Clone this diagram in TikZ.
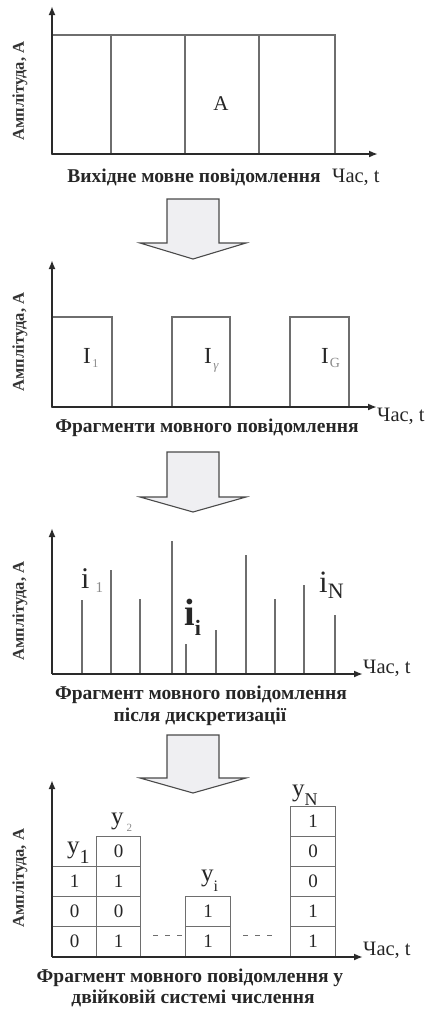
\documentclass[tikz,border=0pt]{standalone}
\usepackage{fontspec}
\setmainfont{Liberation Serif}
\usetikzlibrary{arrows.meta}
\newcommand\fsz[1]{\fontsize{#1}{#1}\selectfont}
\definecolor{axcol}{HTML}{2A2A2A}
\definecolor{lncol}{HTML}{6E6E6E}
\definecolor{subgray}{HTML}{8A8A8A}
\definecolor{arrfill}{HTML}{EFEFF2}
\definecolor{arrline}{HTML}{4A4A4A}
\begin{document}
\begin{tikzpicture}[x=1pt,y=-1pt,
  axisline/.style={draw=axcol,line width=1.8pt,-{Latex[length=9pt,width=7pt]}},
  sig/.style={draw=lncol,line width=1.1pt},
  stemline/.style={draw=lncol,line width=1.1pt},
  cell/.style={draw=lncol,line width=1.1pt,minimum width=44pt,minimum height=30pt,inner sep=0pt,anchor=south west,font=\fsz{19},text=black!85},
  captxt/.style={inner sep=0pt,anchor=base,font=\fsz{19.5}\bfseries,text=black!85},
  tlab/.style={inner sep=0pt,anchor=base west,font=\fsz{20.5},text=black!85},
  ylab/.style={inner sep=0pt,rotate=90,font=\fsz{16.5}\bfseries,text=black!80},
  lab/.style={inner sep=0pt,anchor=base west,text=black!85},
  blockarrow/.style={draw=arrline,fill=arrfill,line width=1.1pt,line join=miter},
  dotline/.style={draw=lncol,line width=0.9pt,dash pattern=on 5pt off 7pt}
]
\useasboundingbox (0,0) rectangle (430,1010);

% ---------- Panel 1 ----------
\coordinate (o1) at (52,154);
\coordinate (ya1) at (52,6);
\coordinate (xa1) at (378,154);
\draw[sig] (52,35) rectangle (335,154);
\foreach \x in {111,185,259} \draw[sig] (\x,35) -- (\x,154);
\draw[axisline] (o1) -- (ya1);
\draw[axisline] (o1) -- (xa1);
\node[inner sep=0pt,font=\fsz{21},text=black!85] (A) at (221,103.5) {A};
\node[captxt] (c1) at (194,182) {Вихідне мовне повідомлення};
\node[tlab] (t1) at (332,182) {Час, t};
\node[ylab] (y1) at (20,91) {Амплітуда, А};

% arrow 1
\draw[blockarrow] (167,199) -- (219,199) -- (219,243) -- (246,243) -- (193,259) -- (140,243) -- (167,243) -- cycle;

% ---------- Panel 2 ----------
\coordinate (o2) at (52,407);
\coordinate (ya2) at (52,260);
\coordinate (xa2) at (377,407);
\draw[sig] (52,317) rectangle (112,407);
\draw[sig] (172,317) rectangle (230,407);
\draw[sig] (290,317) rectangle (349,407);
\draw[axisline] (o2) -- (ya2);
\draw[axisline] (o2) -- (xa2);
\node[lab] (I1) at (83,363) {\fsz{23}I\hspace{1.5pt}\raisebox{-4pt}{\fsz{12}\color{subgray}1}};
\node[lab] (Ig) at (204,363) {\fsz{23}I\hspace{1.5pt}\raisebox{-6pt}{\fsz{13}\itshape\color{subgray}γ}};
\node[lab] (IG) at (321,363) {\fsz{23}I\hspace{1pt}\raisebox{-4pt}{\fsz{14}\color{subgray}G}};
\node[captxt] (c2) at (207,432) {Фрагменти мовного повідомлення};
\node[tlab] (t2) at (377,421) {Час, t};
\node[ylab] (y2) at (20,342) {Амплітуда, А};

% arrow 2
\draw[blockarrow] (167,452) -- (219,452) -- (219,497) -- (246,497) -- (193,512) -- (140,497) -- (167,497) -- cycle;

% ---------- Panel 3 ----------
\coordinate (o3) at (52,674);
\coordinate (ya3) at (52,528);
\coordinate (xa3) at (363,674);
\foreach \x/\t in {82/600,111/570,140/599,172/541,186/644,216/630,246/555,275/599,304/585,335/615}
  \draw[stemline] (\x,674) -- (\x,\t);
\draw[axisline] (o3) -- (ya3);
\draw[axisline] (o3) -- (xa3);
\node[lab] (i1) at (81,588) {\fsz{30}i\hspace{6pt}\raisebox{-4pt}{\fsz{15}\color{subgray}1}};
\node[lab] (ii) at (184,625) {\fsz{38}\bfseries i\raisebox{-10pt}{\fsz{22}i}};
\node[lab] (iN) at (319,592) {\fsz{31}i\raisebox{-6pt}{\fsz{22}N}};
\node[captxt] (c3a) at (201,699) {Фрагмент мовного повідомлення};
\node[captxt] (c3b) at (200,721) {після дискретизації};
\node[tlab] (t3) at (363,673) {Час, t};
\node[ylab] (y3) at (20,611) {Амплітуда, А};

% arrow 3
\draw[blockarrow] (167,735) -- (219,735) -- (219,778) -- (246,778) -- (193,793) -- (140,778) -- (167,778) -- cycle;

% ---------- Panel 4 ----------
\coordinate (o4) at (52,957);
\coordinate (ya4) at (52,780);
\coordinate (xa4) at (363,957);
\node[cell] (a1) at (52,957) {0};
\node[cell] (a2) at (52,927) {0};
\node[cell] (a3) at (52,897) {1};
\node[cell] (b1c) at (96,957) {1};
\node[cell] (b2c) at (96,927) {0};
\node[cell] (b3c) at (96,897) {1};
\node[cell] (b4c) at (96,867) {0};
\node[cell,minimum width=45pt] (ci1) at (185,957) {1};
\node[cell,minimum width=45pt] (ci2) at (185,927) {1};
\node[cell,minimum width=45pt] (n1) at (290,957) {1};
\node[cell,minimum width=45pt] (n2) at (290,927) {1};
\node[cell,minimum width=45pt] (n3) at (290,897) {0};
\node[cell,minimum width=45pt] (n4) at (290,867) {0};
\node[cell,minimum width=45pt] (n5) at (290,837) {1};
\draw[axisline] (o4) -- (ya4);
\draw[axisline] (o4) -- (xa4);
\draw[dotline] (153,935) -- (182,935);
\draw[dotline] (243,935) -- (272,935);
\node[lab] (ly1) at (67,853.5) {\fsz{25}y\raisebox{-10pt}{\fsz{20}1}};
\node[lab] (ly2) at (111,824.5) {\fsz{25}y\hspace{3pt}\raisebox{-6.5pt}{\fsz{11}\color{subgray}2}};
\node[lab] (lyi) at (201,881.5) {\fsz{25}y\raisebox{-10pt}{\fsz{16}i}};
\node[lab] (lyN) at (292,796.5) {\fsz{25}y\raisebox{-8.5pt}{\fsz{18}N}};
\node[captxt] (c4a) at (190,982) {Фрагмент мовного повідомлення у};
\node[captxt] (c4b) at (193,1003) {двійковій системі числення};
\node[tlab] (t4) at (363,955) {Час, t};
\node[ylab] (y4) at (20,878) {Амплітуда, А};
\end{tikzpicture}
\end{document}
